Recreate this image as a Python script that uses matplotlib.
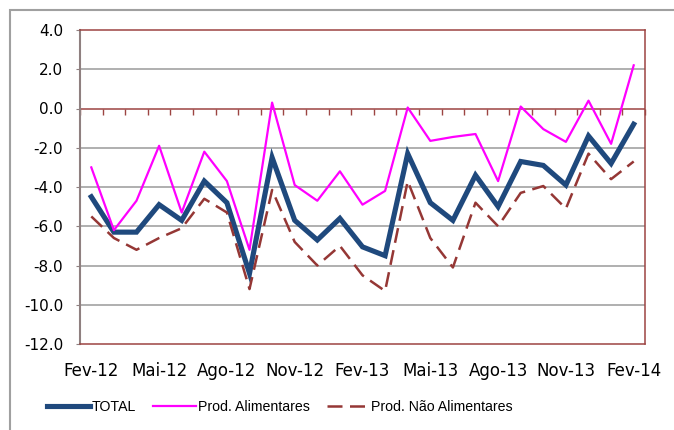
import matplotlib
matplotlib.use("Agg")
import matplotlib.pyplot as plt
from matplotlib.patches import Rectangle
from matplotlib.ticker import FuncFormatter

plt.rcParams["axes.unicode_minus"] = False

months = ["Fev-12", "Mar-12", "Abr-12", "Mai-12", "Jun-12", "Jul-12", "Ago-12",
          "Set-12", "Out-12", "Nov-12", "Dez-12", "Jan-13", "Fev-13", "Mar-13",
          "Abr-13", "Mai-13", "Jun-13", "Jul-13", "Ago-13", "Set-13", "Out-13",
          "Nov-13", "Dez-13", "Jan-14", "Fev-14"]

total = [-4.5, -6.3, -6.3, -4.9, -5.7, -3.7, -4.8, -8.4, -2.5, -5.7, -6.7, -5.6,
         -7.05, -7.5, -2.3, -4.8, -5.7, -3.4, -5.0, -2.7, -2.9, -3.9, -1.4, -2.8,
         -0.8]
alimentares = [-3.0, -6.2, -4.7, -1.9, -5.3, -2.2, -3.7, -7.2, 0.3, -3.9, -4.7,
               -3.2, -4.9, -4.2, 0.05, -1.65, -1.45, -1.3, -3.7, 0.1, -1.05,
               -1.7, 0.4, -1.8, 2.2]
nao_alimentares = [-5.5, -6.6, -7.2, -6.6, -6.1, -4.6, -5.3, -9.2, -4.15, -6.8,
                   -8.0, -7.0, -8.5, -9.3, -3.7, -6.6, -8.1, -4.8, -6.0, -4.3,
                   -3.95, -5.1, -2.3, -3.6, -2.7]

x = list(range(len(months)))
red_axis = "#9c4442"

fig = plt.figure(figsize=(6.74, 4.30), dpi=100)
fig.patch.set_facecolor("white")
# outer chart border (clipped at right/bottom like the original)
fig.patches.append(Rectangle((10 / 674, -0.1), 1.2, 1 - 10 / 430 + 0.1,
                             transform=fig.transFigure, fill=False,
                             edgecolor="#a0a0a0", linewidth=1.5))

ax = fig.add_axes([80 / 674, 1 - 344 / 430, (645 - 80) / 674, (344 - 30) / 430])

for v in [2, -2, -4, -6, -8, -10]:
    ax.axhline(v, color="#9a9a9a", linewidth=1.1, zorder=1)
ax.axhline(0, color=red_axis, linewidth=1.1, zorder=1)

ax.plot(x, total, color="#1f497d", linewidth=3.7, label="TOTAL", zorder=3,
        solid_joinstyle="miter")
ax.plot(x, alimentares, color="#ff00ff", linewidth=1.6,
        label="Prod. Alimentares", zorder=4)
ax.plot(x, nao_alimentares, color="#953735", linewidth=1.8, dashes=(6, 3),
        label="Prod. Não Alimentares", zorder=5)

ax.set_xlim(-0.5, len(months) - 0.5)
ax.set_ylim(-12, 4)
ax.set_yticks(range(-12, 5, 2))
ax.yaxis.set_major_formatter(FuncFormatter(lambda v, p: f"{v:.1f}"))
ax.tick_params(axis="y", length=3, pad=9, labelsize=11, color="#8f8080",
               labelcolor="black")

ax.set_xticks(x[::3])
ax.set_xticklabels(months[::3])
ax.tick_params(axis="x", length=0, pad=13, labelsize=12)

for side in ["top", "right", "bottom"]:
    ax.spines[side].set_color(red_axis)
    ax.spines[side].set_linewidth(1.1)
ax.spines["left"].set_color("#8f8080")
ax.spines["left"].set_linewidth(1.5)

# category tick marks hanging below the zero line
sec = ax.secondary_xaxis(0.75)
sec.xaxis.set_ticks_position("bottom")
sec.set_xticks([i - 0.5 for i in range(len(months) + 1)])
sec.set_xticklabels([])
sec.tick_params(axis="x", direction="out", length=4, color=red_axis, width=1)
for s in sec.spines.values():
    s.set_visible(False)

leg = fig.legend(loc="center", bbox_to_anchor=(280 / 674, 1 - 407 / 430),
                 ncol=3, frameon=False, handlelength=3.0, handletextpad=0.15,
                 columnspacing=1.2,
                 prop={"family": ["Liberation Sans", "DejaVu Sans"],
                       "size": 10.2})

fig.savefig("out.png", dpi=100, facecolor=fig.get_facecolor())
plt.close(fig)
